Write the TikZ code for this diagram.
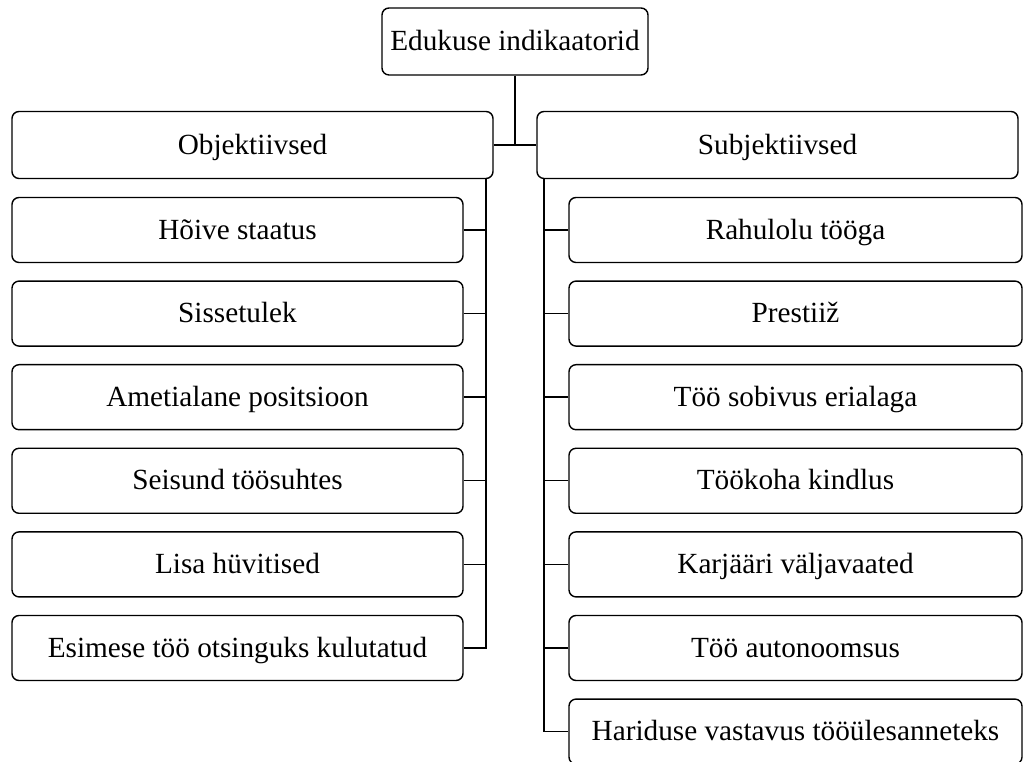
\documentclass[tikz,border=0pt]{standalone}
\usepackage{fontspec}
\setmainfont{Liberation Serif}
\usepackage{tikz}
\usetikzlibrary{positioning,calc}

\begin{document}
\begin{tikzpicture}[
  font=\fontsize{20.8}{25}\selectfont,
  box/.style={draw,rounded corners=5pt,line width=1pt,
    minimum height=1.625cm,inner sep=0pt,text height=14pt,text depth=1pt},
  topbox/.style={box,minimum width=6.65cm,minimum height=1.675cm},
  mainbox/.style={box,minimum width=12.025cm,minimum height=1.675cm},
  leftbox/.style={box,minimum width=11.275cm},
  rightbox/.style={box,minimum width=11.325cm},
  link/.style={line width=1pt}
]
  \useasboundingbox (0,0) rectangle (25.625,19.05);

  \node[topbox] (top) at (12.875,18.0125) {Edukuse indikaatorid};
  \node[mainbox] (obj) at (6.3125,15.425) {Objektiivsed};
  \node[mainbox] (subj) at (19.4375,15.425) {Subjektiivsed};

  \node[leftbox] (hoive) at (5.9375,13.30) {Hõive staatus};
  \node[leftbox] (sisse) at (5.9375,11.21) {Sissetulek};
  \node[leftbox] (ameti) at (5.9375,9.12) {Ametialane positsioon};
  \node[leftbox] (seis) at (5.9375,7.03) {Seisund töösuhtes};
  \node[leftbox] (lisa) at (5.9375,4.94) {Lisa hüvitised};
  \node[leftbox] (esim) at (5.9375,2.85) {Esimese töö otsinguks kulutatud};

  \node[rightbox] (rahul) at (19.8875,13.30) {Rahulolu tööga};
  \node[rightbox] (prest) at (19.8875,11.21) {Prestiiž};
  \node[rightbox] (sobiv) at (19.8875,9.12) {Töö sobivus erialaga};
  \node[rightbox] (kindl) at (19.8875,7.03) {Töökoha kindlus};
  \node[rightbox] (karj) at (19.8875,4.94) {Karjääri väljavaated};
  \node[rightbox] (auto) at (19.8875,2.85) {Töö autonoomsus};
  \node[rightbox] (harid) at (19.8875,0.76) {Hariduse vastavus tööülesanneteks};

  \coordinate (lx) at (12.15,0);
  \coordinate (rx) at (13.6,0);

  % top level
  \draw[link] (top.south) -- (top.south |- obj.east);
  \draw[link] (obj.east) -- (subj.west);

  % left branch
  \draw[link] (obj.south -| lx) -- (lx |- esim.east) -- (esim.east);
  \draw[link] (hoive.east) -- (hoive.east -| lx);
  \draw[link] (sisse.east) -- (sisse.east -| lx);
  \draw[link] (ameti.east) -- (ameti.east -| lx);
  \draw[link] (seis.east) -- (seis.east -| lx);
  \draw[link] (lisa.east) -- (lisa.east -| lx);

  % right branch
  \draw[link] (subj.south -| rx) -- (rx |- harid.west) -- (harid.west);
  \draw[link] (rahul.west) -- (rahul.west -| rx);
  \draw[link] (prest.west) -- (prest.west -| rx);
  \draw[link] (sobiv.west) -- (sobiv.west -| rx);
  \draw[link] (kindl.west) -- (kindl.west -| rx);
  \draw[link] (karj.west) -- (karj.west -| rx);
  \draw[link] (auto.west) -- (auto.west -| rx);
\end{tikzpicture}
\end{document}
